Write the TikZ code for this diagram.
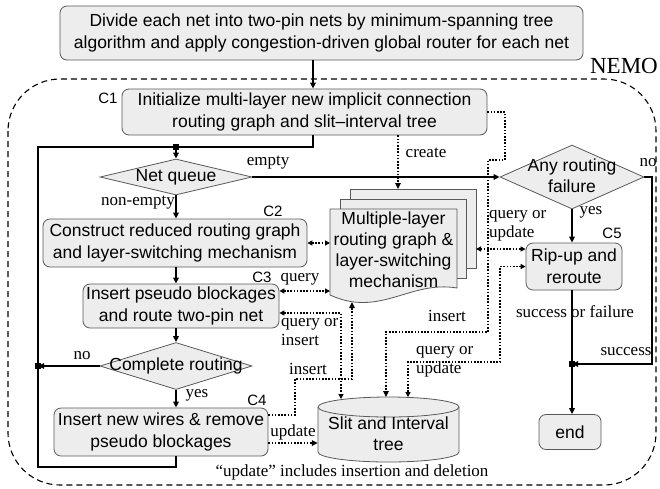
\documentclass[tikz,border=0pt]{standalone}
\usepackage{fontspec}
\setmainfont{Liberation Serif}
\setsansfont{Liberation Sans}
\usetikzlibrary{arrows.meta,shapes.geometric}
\begin{document}
\begin{tikzpicture}[x=1pt,y=-1pt,
  box/.style={draw=black!65, fill=black!7, line width=0.8pt, rounded corners=7pt,
    font=\sffamily\fontsize{17.5}{22}\selectfont, align=center, inner sep=0pt},
  dia/.style={diamond, draw=black!65, fill=black!7, line width=0.8pt, inner sep=0pt},
  dtxt/.style={font=\sffamily\fontsize{17.5}{21}\selectfont, align=center, inner sep=0pt},
  page/.style={draw=black!65, fill=black!7, line width=0.8pt},
  lab/.style={font=\fontsize{17}{19}\selectfont, inner sep=0pt, align=left},
  cl/.style={font=\sffamily\fontsize{15}{15}\selectfont, inner sep=0pt},
  thk/.style={line width=1.8pt},
  dt/.style={line width=1.6pt, dash pattern=on 1.6pt off 1.6pt},
  arr/.style={-{Triangle[length=6pt,width=5.5pt]}},
  arrs/.style={{Triangle[length=5pt,width=5pt]}-{Triangle[length=5pt,width=5pt]}},
  jun/.style={fill=black, minimum size=6pt, inner sep=0pt}]
\useasboundingbox (0,0) rectangle (660,488);

% outer dashed region
\draw[line width=1.1pt, dash pattern=on 6pt off 4pt, rounded corners=52pt] (8,79) rectangle (656,485);
\node[font=\fontsize{23}{23}\selectfont, anchor=base east, inner sep=0pt] (nemo) at (658,73) {NEMO};

% boxes
\node[box, minimum width=523, minimum height=54] (top) at (321.5,33)
  {Divide each net into two-pin nets by minimum-spanning tree\\algorithm and apply congestion-driven global router for each net};
\node[box, minimum width=365, minimum height=46] (c1) at (304.5,112)
  {Initialize multi-layer new implicit connection\\routing graph and slit–interval tree};
\node[cl] (c1l) at (108,98) {C1};

\node[dia, minimum width=152, minimum height=36] (netq) at (176,177) {};
\node[dtxt] (netqt) at (netq) {Net queue};

\node[box, minimum width=264, minimum height=48] (c2) at (175,243)
  {Construct reduced routing graph\\and layer-switching mechanism};
\node[cl] (c2l) at (273,211) {C2};

\node[box, minimum width=196, minimum height=44] (c3) at (181,306)
  {Insert pseudo blockages\\and route two-pin net};
\node[cl] (c3l) at (262,277) {C3};

\node[dia, minimum width=152, minimum height=47] (cr) at (176,366) {};
\node[dtxt] (crt) at (cr) {Complete routing};

\node[box, minimum width=214, minimum height=48] (c4) at (161,432)
  {Insert new wires \& remove\\pseudo blockages};
\node[cl] (c4l) at (257,400) {C4};

\node[dia, minimum width=144, minimum height=64] (any) at (572,177) {};
\node[dtxt] (anyt) at (572,176) {Any routing\\failure};

\node[box, minimum width=96, minimum height=47] (c5) at (574,266.5) {Rip-up and\\reroute};
\node[cl] (c5l) at (612,233) {C5};

\node[box, minimum width=62, minimum height=35] (end) at (570,432) {end};

% stacked document
\filldraw[page] (350,189) rectangle (476,268);
\filldraw[page] (340,199) rectangle (466,278);
\filldraw[page] (330,209) -- (457,209) -- (457,288) .. controls (410,280) and (380,318) .. (330,295) -- cycle;
\node[dtxt] (stk) at (393.5,250) {Multiple-layer\\routing graph \&\\layer-switching\\mechanism};
\coordinate (sTop) at (398,189);
\coordinate (sR) at (476,249);
\coordinate (sL) at (330,250);
\coordinate (sB) at (352,302);

% cylinder
\filldraw[page] (318,407) -- (318,452) arc[start angle=180, end angle=360, x radius=70.5pt, y radius=10pt]
  -- (459,407) arc[start angle=0, end angle=180, x radius=70.5pt, y radius=10pt] -- cycle;
\draw[page, fill=none] (318,407) arc[start angle=180, end angle=360, x radius=70.5pt, y radius=10pt];
\node[dtxt, minimum width=141] (cyl) at (388.5,434) {Slit and Interval\\tree};
\coordinate (cA) at (341,399);
\coordinate (cB) at (386,397);
\coordinate (cC) at (408,397);

% main thick flow
\coordinate (jx) at (313,0);
\coordinate (ja) at (176,147);
\coordinate (fl) at (38,147);
\coordinate (fb) at (38,467);
\coordinate (jb) at (38,366);
\coordinate (jc) at (572,364);
\coordinate (rr) at (652,177);

\draw[thk, arr] (top.south -| jx) -- (c1.north -| jx);
\draw[thk] (c1.south -| jx) |- (fl) -- (fb) -| (c4.south -| ja);
\draw[thk, arr] (ja) -- (netq.north);
\draw[thk, arr] (netq.east) -- (any.west);
\draw[thk, arr] (netq.south) -- (netq.south |- c2.north);
\draw[thk, arr] (c2.south -| ja) -- (c3.north -| ja);
\draw[thk, arr] (c3.south -| ja) -- (cr.north);
\draw[thk, arr] (cr.south) -- (cr.south |- c4.north);
\draw[thk, arr] (cr.west) -- (jb);
\draw[thk, arr] (any.south) -- (any.south |- c5.north);
\draw[thk, arr] (any.east) -- (rr) |- (jc);
\draw[thk] (c5.south -| jc) -- (jc);
\draw[thk, arr] (jc) -- (end.north -| jc);
\node[jun] (jna) at (ja) {};
\node[jun] (jnb) at (jb) {};
\node[jun] (jnc) at (jc) {};

% labels on thick flow
\node[lab] (lempty) at (268,163) {empty};
\node[lab] (lnonempty) at (138,203) {non-empty};
\node[lab] (lyes1) at (197,395) {yes};
\node[lab] (lno1) at (82,356) {no};
\node[lab] (lyes2) at (591,212) {yes};
\node[lab] (lno2) at (648,163) {no};
\node[lab] (lsucc) at (626,352) {success};
\node[lab] (lsf) at (575,312) {success or failure};

% dotted connectors
\draw[dt, arr] (c1.south -| sTop) -- (sTop);
\node[lab] (lcreate) at (426,153) {create};

\coordinate (m1) at (505,160);
\coordinate (m2) at (488,332);
\draw[dt, arr] (c1.east) -| (m1) -| (m2) -| (cB);
\node[lab] (lins1) at (447,316) {insert};

\draw[dt, arrs] (sR) -- (sR -| c5.west);
\node[lab, anchor=west] (lqu1) at (489,226) {query or\\update};

\coordinate (m3) at (500,362);
\draw[dt, arrs] (c5.west) -| (m3) -| (cC);
\node[lab, anchor=west] (lqu2) at (416,362) {query or\\update};

\draw[dt, arrs] (c2.east) -- (c2.east -| sL);
\draw[dt, arrs] ([yshift=15pt]c3.east) -- ([yshift=15pt]c3.east -| sL);
\node[lab] (lquery) at (300,279) {query};

\draw[dt, arrs] ([yshift=-7pt]c3.east) -| (cA);
\node[lab, anchor=west] (lqi) at (281,332) {query or\\insert};

\coordinate (k1) at (295,379);
\draw[dt, arr] ([yshift=17pt]c4.east) -| (k1) -| (sB);
\node[lab] (lins2) at (308,369) {insert};

\draw[dt, arr] ([yshift=-11pt]c4.east) -- ([yshift=-11pt]c4.east -| cyl.west);
\node[lab] (lupd) at (293,432) {update};

\node[lab] (lnote) at (352,472) {“update” includes insertion and deletion};
\end{tikzpicture}
\end{document}
